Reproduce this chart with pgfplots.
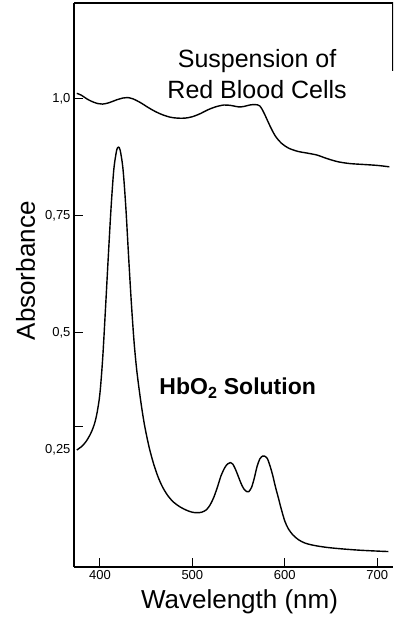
\documentclass[border=0pt]{standalone}
\usepackage{pgfplots}
\pgfplotsset{compat=1.18}
\usepackage{fontspec}
\setmainfont{Liberation Sans}
\begin{document}
\begin{tikzpicture}
\useasboundingbox (0,0) rectangle (394pt,620pt);
\begin{axis}[
  at={(74pt,53pt)}, anchor=south west,
  scale only axis, width=319pt, height=564pt,
  xmin=372, xmax=717, ymin=0, ymax=1.205,
  axis x line*=bottom, axis y line*=left,
  axis line style={-, line width=1.1pt},
  tick align=inside, major tick length=9pt,
  tick style={line width=1pt, black},
  xtick={400,500,600,700},
  ytick={0.3,0.5,0.75,1.0},
  yticklabels={,{0,5},{0,75},{1,0}},
  extra y ticks={0.25}, extra y tick labels={0{,}25},
  extra y tick style={major tick length=0pt},
  /pgf/number format/assume math mode=true,
  ticklabel style={font=\fontsize{13}{15}\selectfont},
  xlabel={Wavelength (nm)}, ylabel={Absorbance},
  xlabel style={font=\fontsize{26}{30}\selectfont, at={(axis description cs:0.519,0)}, anchor=base, yshift=-41pt},
  ylabel style={font=\fontsize{26}{30}\selectfont, at={(axis description cs:-0.1223,0.525)}, anchor=base},
]
\draw[line width=1.1pt] (rel axis cs:0,1) -- (rel axis cs:1,1) -- (rel axis cs:1,0.88);
\addplot[black, line width=1.4pt, smooth, tension=0.5] coordinates {
(375,0.250) (380,0.257) (385,0.268) (390,0.285) (394,0.305) (397,0.330)
(400,0.370) (403,0.445) (406,0.550) (409,0.660) (412,0.765) (415,0.848)
(418,0.889) (420,0.897) (422,0.890) (425,0.850) (428,0.770) (431,0.665)
(434,0.565) (437,0.480) (440,0.418) (444,0.357) (448,0.306) (453,0.258)
(458,0.221) (463,0.192) (468,0.170) (474,0.151) (480,0.138) (487,0.128)
(494,0.121) (500,0.117) (505,0.116) (510,0.117) (515,0.122) (519,0.132)
(523,0.148) (527,0.170) (531,0.195) (535,0.212) (538,0.220) (541,0.223)
(544,0.219) (547,0.207) (550,0.192) (553,0.177) (556,0.166) (559,0.161)
(561,0.161) (564,0.170) (567,0.190) (570,0.215) (573,0.231) (576,0.237)
(578,0.237) (581,0.232) (584,0.216) (587,0.195) (590,0.170) (593,0.148)
(596,0.125) (600,0.098) (604,0.081) (609,0.068) (615,0.058) (622,0.051)
(632,0.046) (645,0.042) (660,0.039) (680,0.036) (700,0.034) (712,0.033)
};
\addplot[black, line width=1.4pt, smooth, tension=0.5] coordinates {
(375,1.012) (380,1.008) (386,1.000) (392,0.994) (398,0.990) (403,0.989)
(410,0.992) (418,0.998) (425,1.002) (430,1.003) (436,1.000) (444,0.992)
(452,0.982) (460,0.973) (468,0.966) (476,0.961) (484,0.959) (492,0.959)
(500,0.962) (509,0.969) (517,0.977) (525,0.983) (534,0.987) (542,0.986)
(550,0.983) (556,0.984) (562,0.987) (568,0.988) (573,0.985) (577,0.972)
(581,0.955) (585,0.938) (590,0.920) (596,0.906) (604,0.895) (614,0.888)
(625,0.884) (635,0.880) (645,0.873) (657,0.866) (670,0.862) (685,0.860)
(700,0.858) (713,0.855)
};
\node[anchor=base, font=\fontsize{25}{30}\selectfont] at (axis cs:570,1.068) {Suspension of};
\node[anchor=base, font=\fontsize{25}{30}\selectfont] at (axis cs:570,1.002) {Red Blood Cells};
\node[anchor=base, font=\fontsize{23}{28}\selectfont\bfseries] at (axis cs:549,0.3675) {HbO\textsubscript{2} Solution};
\end{axis}
\end{tikzpicture}
\end{document}
